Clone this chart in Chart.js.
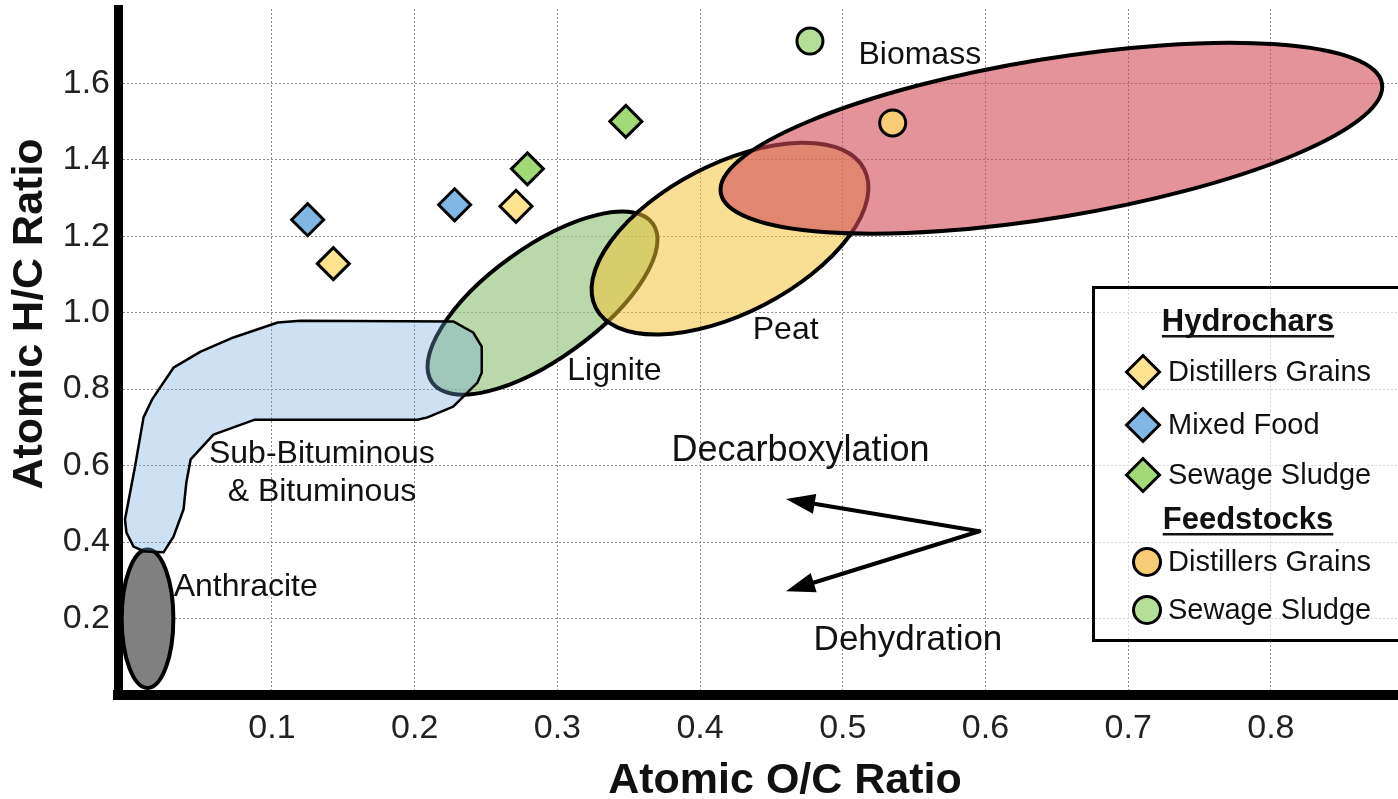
<!DOCTYPE html>
<html><head><meta charset="utf-8">
<script src="https://cdn.jsdelivr.net/npm/chart.js@4/dist/chart.umd.min.js"></script>
<style>html,body{margin:0;padding:0;background:#fff;overflow:hidden}</style>
</head><body>
<canvas id="c" width="1398" height="799"></canvas>
<script>
// ---------------- data ----------------
const xTicks = [0.1, 0.2, 0.3, 0.4, 0.5, 0.6, 0.7, 0.8];
const yTicks = [0.2, 0.4, 0.6, 0.8, 1.0, 1.2, 1.4, 1.6];

// Hydrochars (O/C, H/C)
const hcDistillersGrains = [{x: 0.143, y: 1.128}, {x: 0.271, y: 1.278}];
const hcMixedFood        = [{x: 0.125, y: 1.243}, {x: 0.228, y: 1.282}];
const hcSewageSludge     = [{x: 0.279, y: 1.376}, {x: 0.348, y: 1.500}];
// Feedstocks
const fsDistillersGrains = [{x: 0.535, y: 1.496}];
const fsSewageSludge     = [{x: 0.477, y: 1.710}];

// Region ellipses: centre and two conjugate semi-axes, in data units
const anthraciteRegion = {cx: 0.0128, cy: 0.1995, ax: 0.0181, ay: 0.0,    bx: 0.0,     by: 0.181};
const ligniteRegion    = {cx: 0.2896, cy: 1.0248, ax: 0.0773, ay: 0.2081, bx: -0.0228, by: 0.1182};
const peatRegion       = {cx: 0.421,  cy: 1.1935, ax: 0.0940, ay: 0.1817, bx: -0.0240, by: 0.1728};
const biomassRegion    = {cx: 0.6462, cy: 1.456,  ax: 0.2317, ay: 0.1427, bx: -0.0090, by: 0.2047};
// Sub-bituminous & bituminous outline (O/C, H/C)
const bituminousOutline = [
  [0.016,0.773],[0.031,0.856],[0.050,0.898],[0.073,0.935],[0.104,0.974],[0.120,0.979],
  [0.227,0.977],[0.241,0.948],[0.247,0.911],[0.247,0.843],[0.244,0.817],[0.227,0.754],
  [0.209,0.726],[0.202,0.720],[0.088,0.720],[0.059,0.681],[0.043,0.616],[0.040,0.556],
  [0.038,0.485],[0.031,0.414],[0.024,0.373],[0.011,0.375],[0.003,0.388],[-0.002,0.425],
  [-0.003,0.459],[0.004,0.597],[0.010,0.726]
];

const regionLabels = [
  {text: 'Biomass', x: 0.554, y: 1.674},
  {text: 'Peat', x: 0.460, y: 0.953},
  {text: 'Lignite', x: 0.340, y: 0.848},
  {text: 'Sub-Bituminous', x: 0.135, y: 0.631},
  {text: '& Bituminous', x: 0.135, y: 0.531},
  {text: 'Anthracite', x: 0.0816, y: 0.281}
];
const processLabels = [
  {text: 'Decarboxylation', x: 0.4704, y: 0.638},
  {text: 'Dehydration', x: 0.5457, y: 0.144}
];
const arrowFrom = [0.5957, 0.4282];
const arrowTargets = [[0.4602, 0.5124], [0.4602, 0.2714]];

const legendGroups = [
  {title: 'Hydrochars', items: [0, 1, 2]},
  {title: 'Feedstocks', items: [3, 4]}
];

// ---------------- drawing ----------------
const FONT = "'Liberation Sans', Arial, sans-serif";

function ellipsePath(ctx, xs, ys, e) {
  const cx = xs.getPixelForValue(e.cx), cy = ys.getPixelForValue(e.cy);
  const ax = xs.getPixelForValue(e.cx + e.ax) - cx, ay = ys.getPixelForValue(e.cy + e.ay) - cy;
  const bx = xs.getPixelForValue(e.cx + e.bx) - cx, by = ys.getPixelForValue(e.cy + e.by) - cy;
  ctx.save();
  ctx.transform(ax, ay, bx, by, cx, cy);
  ctx.beginPath();
  ctx.arc(0, 0, 1, 0, Math.PI * 2);
  ctx.closePath();
  ctx.restore();
}

const regionsPlugin = {
  id: 'regions',
  beforeDatasetsDraw(chart) {
    const {ctx, scales: {x: xs, y: ys}} = chart;
    ctx.save();
    ctx.lineJoin = 'round';
    // Anthracite
    ellipsePath(ctx, xs, ys, anthraciteRegion);
    ctx.fillStyle = '#808080'; ctx.fill();
    ctx.lineWidth = 4; ctx.strokeStyle = '#000'; ctx.stroke();
    // Lignite
    ellipsePath(ctx, xs, ys, ligniteRegion);
    ctx.fillStyle = 'rgba(147,196,125,0.65)'; ctx.fill();
    ctx.lineWidth = 4; ctx.stroke();
    // Sub-bituminous / bituminous
    ctx.beginPath();
    bituminousOutline.forEach((p, i) => {
      const px = xs.getPixelForValue(p[0]), py = ys.getPixelForValue(p[1]);
      if (i === 0) ctx.moveTo(px, py); else ctx.lineTo(px, py);
    });
    ctx.closePath();
    ctx.fillStyle = 'rgba(111,168,220,0.35)'; ctx.fill();
    ctx.lineWidth = 2.5; ctx.stroke();
    // Peat
    ellipsePath(ctx, xs, ys, peatRegion);
    ctx.fillStyle = 'rgba(241,194,50,0.52)'; ctx.fill();
    ctx.lineWidth = 4; ctx.stroke();
    // Biomass
    ellipsePath(ctx, xs, ys, biomassRegion);
    ctx.fillStyle = 'rgba(210,75,88,0.6)'; ctx.fill();
    ctx.lineWidth = 4; ctx.stroke();

    // labels
    ctx.fillStyle = '#111';
    ctx.textAlign = 'center';
    ctx.textBaseline = 'middle';
    ctx.font = '32px ' + FONT;
    regionLabels.forEach(l => ctx.fillText(l.text, xs.getPixelForValue(l.x), ys.getPixelForValue(l.y)));
    processLabels.forEach((l, i) => {
      ctx.font = (i === 0 ? '36px ' : '35px ') + FONT;
      ctx.fillText(l.text, xs.getPixelForValue(l.x), ys.getPixelForValue(l.y));
    });

    // arrows
    const fx = xs.getPixelForValue(arrowFrom[0]), fy = ys.getPixelForValue(arrowFrom[1]);
    ctx.strokeStyle = '#000'; ctx.fillStyle = '#000'; ctx.lineWidth = 4; ctx.lineCap = 'round';
    arrowTargets.forEach(t => {
      const tx = xs.getPixelForValue(t[0]), ty = ys.getPixelForValue(t[1]);
      const dx = tx - fx, dy = ty - fy, len = Math.hypot(dx, dy);
      const ux = dx / len, uy = dy / len;
      const hl = 29, hw = 10;
      const bx = tx - ux * hl, by = ty - uy * hl;
      ctx.beginPath(); ctx.moveTo(fx, fy); ctx.lineTo(bx + ux * 2, by + uy * 2); ctx.stroke();
      ctx.beginPath();
      ctx.moveTo(tx, ty);
      ctx.lineTo(bx - uy * hw, by + ux * hw);
      ctx.lineTo(bx + uy * hw, by - ux * hw);
      ctx.closePath(); ctx.fill();
    });
    ctx.restore();
  }
};

const titlesLegendPlugin = {
  id: 'titlesLegend',
  afterDraw(chart) {
    const ctx = chart.ctx;
    ctx.save();
    // axis titles
    ctx.fillStyle = '#111';
    ctx.font = 'bold 43px ' + FONT;
    ctx.textAlign = 'center'; ctx.textBaseline = 'middle';
    ctx.fillText('Atomic O/C Ratio', 785, 781);
    ctx.save();
    ctx.translate(30, 314); ctx.rotate(-Math.PI / 2);
    ctx.fillText('Atomic H/C Ratio', 0, 0);
    ctx.restore();

    // legend box
    ctx.fillStyle = 'rgba(255,255,255,0.65)';
    ctx.fillRect(1093, 287, 310, 354);
    ctx.strokeStyle = '#000'; ctx.lineWidth = 3;
    ctx.strokeRect(1093.5, 287.5, 320, 353);

    const rowY = [[322, 372, 425, 475], [520, 562, 610]];
    legendGroups.forEach((g, gi) => {
      const ys = rowY[gi];
      ctx.fillStyle = '#111';
      ctx.font = 'bold 31px ' + FONT;
      ctx.textAlign = 'center'; ctx.textBaseline = 'middle';
      ctx.fillText(g.title, 1248, ys[0]);
      const w = ctx.measureText(g.title).width;
      ctx.fillRect(1248 - w / 2, ys[0] + 13, w, 2.5);
      g.items.forEach((di, k) => {
        const ds = chart.data.datasets[di];
        const y = ys[k + 1];
        const style = ds.pointStyle;
        const mx = style === 'circle' ? 1147 : 1143;
        ctx.fillStyle = ds.backgroundColor; ctx.strokeStyle = '#000'; ctx.lineWidth = 3;
        ctx.beginPath();
        if (style === 'circle') { ctx.arc(mx, y, 13.5, 0, Math.PI * 2); }
        else { ctx.moveTo(mx - 16.5, y); ctx.lineTo(mx, y - 16.5); ctx.lineTo(mx + 16.5, y); ctx.lineTo(mx, y + 16.5); ctx.closePath(); }
        ctx.fill(); ctx.stroke();
        ctx.fillStyle = '#111';
        ctx.font = '29px ' + FONT;
        ctx.textAlign = 'left';
        ctx.fillText(ds.label, 1168, y + 1);
      });
    });
    ctx.restore();
  }
};

const mk = (label, data, style, color) => ({
  label, data, pointStyle: style,
  pointRadius: style === 'circle' ? 13 : 16,
  pointHoverRadius: style === 'circle' ? 13 : 16,
  backgroundColor: color, borderColor: '#000', borderWidth: 3, pointBorderWidth: 3
});

new Chart(document.getElementById('c'), {
  type: 'scatter',
  data: {
    datasets: [
      mk('Distillers Grains', hcDistillersGrains, 'rectRot', '#ffe38f'),
      mk('Mixed Food', hcMixedFood, 'rectRot', '#80b8e3'),
      mk('Sewage Sludge', hcSewageSludge, 'rectRot', '#a2d977'),
      mk('Distillers Grains', fsDistillersGrains, 'circle', '#f8cc75'),
      mk('Sewage Sludge', fsSewageSludge, 'circle', '#b5df97')
    ]
  },
  options: {
    responsive: false,
    animation: false,
    layout: {autoPadding: false, padding: {top: 9, right: 0, bottom: 0, left: 0}},
    plugins: {legend: {display: false}, tooltip: {enabled: false}},
    scales: {
      x: {
        type: 'linear', min: -0.0079, max: 0.8891,
        afterBuildTicks: s => { s.ticks = xTicks.map(v => ({value: v})); },
        afterFit: s => { s.height = 104; s.paddingLeft = 0; s.paddingRight = 0; },
        grid: {color: '#8c8c8c', lineWidth: 1, drawTicks: false},
        border: {display: true, width: 10, color: '#000', dash: [2, 2]},
        ticks: {padding: 13, color: '#222', font: {family: FONT, size: 34}, callback: v => v.toFixed(1)}
      },
      y: {
        type: 'linear', min: 0, max: 1.794,
        afterBuildTicks: s => { s.ticks = yTicks.map(v => ({value: v})); },
        afterFit: s => { s.width = 118; s.paddingTop = 0; s.paddingBottom = 0; },
        grid: {color: '#8c8c8c', lineWidth: 1, drawTicks: false},
        border: {display: true, width: 9, color: '#000', dash: [2, 2]},
        ticks: {padding: 8, color: '#222', font: {family: FONT, size: 34}, callback: v => v.toFixed(1)}
      }
    }
  },
  plugins: [regionsPlugin, titlesLegendPlugin]
});
</script>
</body></html>
